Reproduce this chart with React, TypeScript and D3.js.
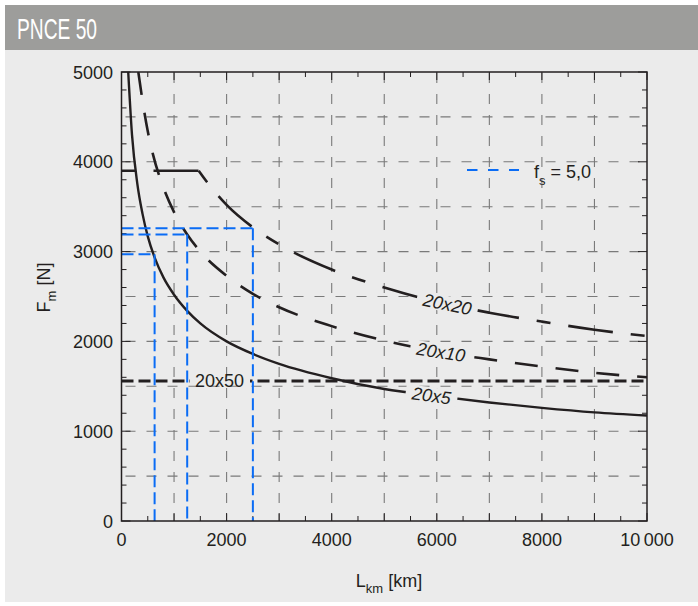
import React from 'react';
import * as d3 from 'd3';

// ---- data ----
const xTickValues = [0, 2000, 4000, 6000, 8000, 10000];
const xTickLabels = ['0', '2000', '4000', '6000', '8000', '10\u2009000'];
const yTickValues = [0, 1000, 2000, 3000, 4000, 5000];
const yTickLabels = ['0', '1000', '2000', '3000', '4000', '5000'];

// 20x5 (solid)
const L_20x5 = [128, 200, 300, 400, 500, 633, 800, 1000, 1250, 1500, 2000, 2500, 3000, 4000, 5000, 6000, 7000, 8000, 9000, 10000];
const F_20x5 = [5000, 4300, 3760, 3420, 3170, 2930, 2710, 2520, 2340, 2200, 2000, 1860, 1750, 1590, 1470, 1390, 1320, 1260, 1210, 1175];
// 20x10 (dashed)
const L_20x10 = [320, 400, 500, 600, 800, 1000, 1250, 1500, 2000, 2500, 3000, 4000, 5000, 6000, 7000, 8000, 9000, 10000];
const F_20x10 = [5000, 4680, 4340, 4080, 3710, 3440, 3190, 3000, 2730, 2530, 2380, 2170, 2010, 1890, 1800, 1720, 1650, 1600];
// 20x20 (dash-dot)
const L_20x20 = [0, 1470, 1500, 2000, 2500, 3000, 4000, 5000, 6000, 7000, 8000, 9000, 10000];
const F_20x20 = [3900, 3900, 3875, 3520, 3270, 3080, 2800, 2600, 2440, 2320, 2220, 2130, 2060];
// 20x50 (constant)
const F_20x50 = 1560;
// fs = 5,0 reference lines
const fsL = [630, 1250, 2500];
const fsF = [2970, 3190, 3260];

const curveNames = ['20x5', '20x10', '20x20'];
const labelAtL = [5900, 6080, 6200];

const INK = '#231f20';
const BG = '#ebebeb';
const BLUE = '#0a6cf5';
const GRID = '#7a7a7a';
const FONT = "'Liberation Sans', Arial, Helvetica, sans-serif";

export default function App() {
  const x = d3.scaleLinear().domain([0, 10000]).range([121.5, 647]);
  const y = d3.scaleLinear().domain([0, 5000]).range([521, 72]);
  const [x0, x1] = x.range();
  const [y0, y1] = y.range();

  const line = d3
    .line<[number, number]>()
    .x((d) => x(d[0]))
    .y((d) => y(d[1]))
    .curve(d3.curveMonotoneX);
  const straight = d3
    .line<[number, number]>()
    .x((d) => x(d[0]))
    .y((d) => y(d[1]));

  const zip = (a: number[], b: number[]) => a.map((v, i) => [v, b[i]] as [number, number]);

  // split the 20x20 curve into its flat part and the falling part
  let knee = 0;
  while (knee < F_20x20.length - 1 && F_20x20[knee + 1] === F_20x20[0]) knee++;
  const pts20 = zip(L_20x20, F_20x20);

  const series = [
    { L: L_20x5, F: F_20x5 },
    { L: L_20x10, F: F_20x10 },
    { L: L_20x20, F: F_20x20 },
  ];

  const labelPos = (L: number[], F: number[], at: number) => {
    let i = 0;
    while (i < L.length - 2 && L[i + 1] < at) i++;
    const t = (at - L[i]) / (L[i + 1] - L[i]);
    const f = F[i] + t * (F[i + 1] - F[i]);
    const ang = (Math.atan2(y(F[i + 1]) - y(F[i]), x(L[i + 1]) - x(L[i])) * 180) / Math.PI;
    return { px: x(at), py: y(f), ang };
  };

  const xMinor = d3.range(0, 10001, 500);
  const yMinor = d3.range(0, 5001, 200);
  const xGrid = d3.range(1000, 10000, 1000);
  const yGrid = d3.range(500, 5000, 500);

  return (
    <svg width={698} height={606} style={{ position: 'absolute', left: 0, top: 0, display: 'block' }} fontFamily={FONT}>
      <rect x={0} y={0} width={698} height={606} fill="#ffffff" />
      <rect x={5} y={5} width={693} height={45} fill="#9d9d9b" />
      <rect x={5} y={50} width={693} height={552} fill={BG} />
      <text x={17} y={39} fontSize={30} fill="#ffffff" textLength={80} lengthAdjust="spacingAndGlyphs">
        PNCE 50
      </text>

      <defs>
        <clipPath id="plotClip">
          <rect x={x0} y={y1} width={x1 - x0} height={y0 - y1} />
        </clipPath>
      </defs>

      {/* grid */}
      <g stroke={GRID} strokeWidth={1.1} strokeDasharray="10 11" fill="none">
        {xGrid.map((v) => (
          <line key={'gx' + v} x1={x(v)} x2={x(v)} y1={y1} y2={y0} strokeDashoffset={-1} />
        ))}
        {yGrid.map((v) => (
          <line key={'gy' + v} x1={x0} x2={x1} y1={y(v)} y2={y(v)} strokeDashoffset={-4} />
        ))}
      </g>

      {/* ticks (inward) */}
      <g stroke={INK} strokeWidth={1}>
        {xMinor.map((v) => {
          const len = v % 1000 === 0 ? 8 : 5;
          return (
            <g key={'tx' + v}>
              <line x1={x(v)} x2={x(v)} y1={y0} y2={y0 - len} />
              <line x1={x(v)} x2={x(v)} y1={y1} y2={y1 + len} />
            </g>
          );
        })}
        {yMinor.map((v) => {
          const len = v % 1000 === 0 ? 9 : 5;
          return (
            <g key={'ty' + v}>
              <line x1={x0} x2={x0 + len} y1={y(v)} y2={y(v)} />
              <line x1={x1} x2={x1 - len} y1={y(v)} y2={y(v)} />
            </g>
          );
        })}
      </g>

      {/* curves */}
      <g clipPath="url(#plotClip)" fill="none" stroke={INK}>
        <path d={line(zip(L_20x5, F_20x5)) || ''} strokeWidth={2.4} />
        <path d={line(zip(L_20x10, F_20x10)) || ''} strokeWidth={2.6} strokeDasharray="23 18" />
        <path d={straight(pts20.slice(0, knee + 1)) || ''} strokeWidth={2.6} strokeDasharray="45 18 14 18" strokeDashoffset={63} />
        <path d={line(pts20.slice(knee)) || ''} strokeWidth={2.6} strokeDasharray="45 18 14 18" strokeDashoffset={63} />
        <line x1={x0} x2={x1} y1={y(F_20x50)} y2={y(F_20x50)} strokeWidth={3} strokeDasharray="12 5" />
      </g>

      {/* curve labels with masks */}
      {series.map((s, i) => {
        const p = labelPos(s.L, s.F, labelAtL[i]);
        const w = curveNames[i].length * 10 + 8;
        return (
          <g key={'lab' + i} transform={`translate(${p.px},${p.py}) rotate(${p.ang})`}>
            <rect x={-w / 2 - 2} y={-8} width={w + 4} height={16} fill={BG} />
            <text x={0} y={6.5} textAnchor="middle" fontSize={18} fontStyle="italic" fill={INK}>
              {curveNames[i]}
            </text>
          </g>
        );
      })}
      <rect x={190} y={y(F_20x50) - 4} width={60} height={8} fill={BG} />
      <text x={219.5} y={387} textAnchor="middle" fontSize={18} fill={INK}>
        20x50
      </text>

      {/* fs = 5,0 reference lines */}
      <g stroke={BLUE} strokeWidth={2} strokeDasharray="12 5" fill="none">
        {fsL.map((L, i) => (
          <g key={'fs' + i}>
            <line x1={x0} x2={x(L)} y1={y(fsF[i])} y2={y(fsF[i])} />
            <line x1={x(L)} x2={x(L)} y1={y(fsF[i])} y2={y0} />
          </g>
        ))}
      </g>

      {/* axes box */}
      <rect x={x0} y={y1} width={x1 - x0} height={y0 - y1} fill="none" stroke={INK} strokeWidth={1.5} />

      {/* tick labels */}
      <g fontSize={18} fill={INK}>
        {xTickValues.map((v, i) => (
          <text key={'xl' + v} x={x(v)} y={546} textAnchor="middle">
            {xTickLabels[i]}
          </text>
        ))}
        {yTickValues.map((v, i) => (
          <text key={'yl' + v} x={113} y={y(v) + 6.5} textAnchor="end">
            {yTickLabels[i]}
          </text>
        ))}
      </g>

      {/* axis titles */}
      <text x={389} y={587} textAnchor="middle" fontSize={18} fill={INK}>
        <tspan>L</tspan>
        <tspan dy={6} fontSize={13}>km</tspan>
        <tspan dy={-6}> [km]</tspan>
      </text>
      <text transform="translate(50,287.5) rotate(-90)" textAnchor="middle" fontSize={18} fill={INK}>
        <tspan>F</tspan>
        <tspan dy={6} fontSize={13}>m</tspan>
        <tspan dy={-6}> [N]</tspan>
      </text>

      {/* legend */}
      <line x1={467} x2={519} y1={170} y2={170} stroke={BLUE} strokeWidth={2} strokeDasharray="10.5 10.5" />
      <text x={534} y={178} fontSize={18} fill={INK}>
        <tspan>f</tspan>
        <tspan dy={7} fontSize={13}>s</tspan>
        <tspan dy={-7}> = 5,0</tspan>
      </text>
    </svg>
  );
}
